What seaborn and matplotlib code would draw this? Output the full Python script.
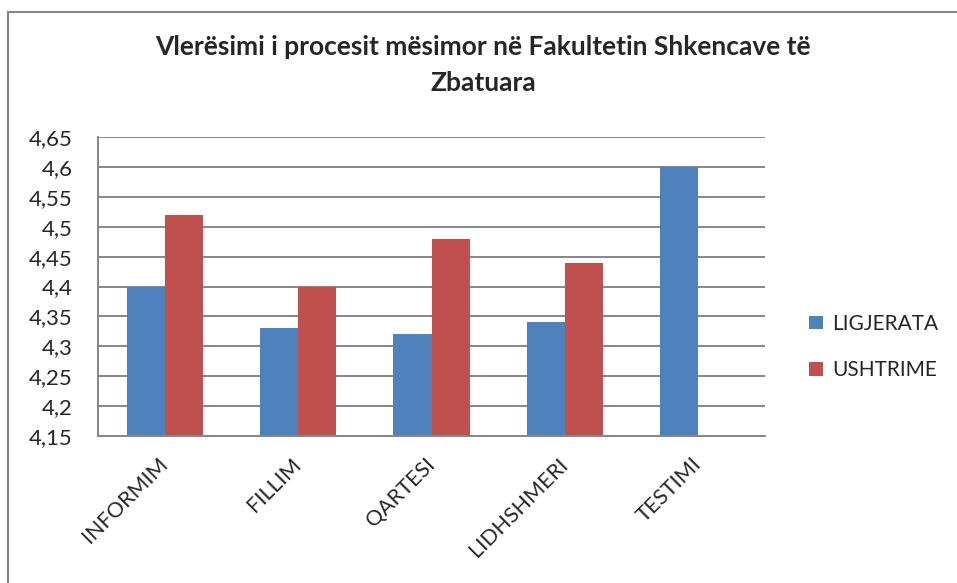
import numpy as np
import pandas as pd
import seaborn as sns
import matplotlib.pyplot as plt
from matplotlib.ticker import FuncFormatter, MultipleLocator
from matplotlib.patches import Rectangle

categories = ['INFORMIM', 'FILLIM', 'QARTESI', 'LIDHSHMERI', 'TESTIMI']
ligjerata = [4.40, 4.33, 4.32, 4.34, 4.60]
ushtrime = [4.52, 4.40, 4.48, 4.44, np.nan]
series = ['LIGJERATA', 'USHTRIME']
colors = ['#4F81BD', '#C0504D']

df = pd.DataFrame({
    'kategoria': categories * 2,
    'vlera': ligjerata + ushtrime,
    'seria': [series[0]] * len(categories) + [series[1]] * len(categories),
})

sns.set_style('white')
plt.rcParams['font.family'] = ['Lato', 'DejaVu Sans']

fig = plt.figure(figsize=(9.57, 5.83), dpi=100)
ax = fig.add_axes([0.1024, 0.252, 0.697, 0.513])

sns.barplot(data=df, x='kategoria', y='vlera', hue='seria', palette=colors,
            width=0.57, gap=0, saturation=1, errorbar=None, linewidth=0, ax=ax)

ax.set_ylim(4.15, 4.65)
ax.yaxis.set_major_locator(MultipleLocator(0.05))
ax.yaxis.set_major_formatter(FuncFormatter(lambda v, p: f"{round(v, 2):g}".replace('.', ',')))
ax.grid(axis='y', color='#868686', linewidth=1.4)
ax.set_axisbelow(True)
for s in ['top', 'right']:
    ax.spines[s].set_visible(False)
for s in ['left', 'bottom']:
    ax.spines[s].set_color('#868686')
    ax.spines[s].set_linewidth(1.4)
ax.set_xlabel('')
ax.set_ylabel('')
ax.tick_params(axis='y', labelsize=16, length=0, pad=18)
ax.tick_params(axis='x', labelsize=15.5, length=0, pad=18)
for lbl in ax.get_xticklabels():
    lbl.set_rotation(45)
    lbl.set_ha('right')
    lbl.set_va('center')
    lbl.set_rotation_mode('anchor')

fig.suptitle('Vlerësimi i procesit mësimor në Fakultetin Shkencave të\nZbatuara',
             x=0.505, y=0.94, fontsize=19, fontweight='bold', linespacing=1.6)

ax.legend(loc='center left', bbox_to_anchor=(0.826, 0.405), bbox_transform=fig.transFigure,
          frameon=False, fontsize=15, handlelength=0.65, handleheight=0.65,
          labelspacing=1.25, handletextpad=0.45)

# outer chart border (right and bottom fall outside the image)
fig.patches.append(Rectangle((0.008, -0.1), 1.2, 1.08, transform=fig.transFigure,
                             fill=False, edgecolor='#868686', linewidth=1.5))

fig.savefig('out.png', dpi=100, facecolor='white')
